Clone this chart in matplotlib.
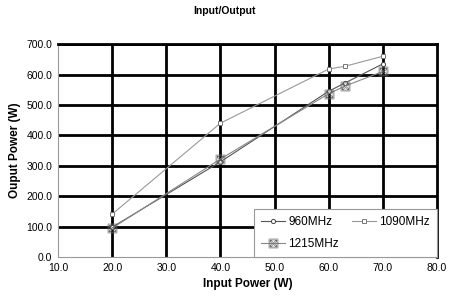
import numpy as np
import matplotlib
matplotlib.use("Agg")
import matplotlib.pyplot as plt

plt.rcParams['font.family'] = ['Liberation Sans', 'DejaVu Sans']

# data
x_in = [20, 40, 60, 63, 70]
p960 = [98, 313, 545, 572, 635]
p1090 = [141, 440, 618, 627, 660]
p1215 = [95, 322, 537, 562, 610]

xticks = [10, 20, 30, 40, 50, 60, 70, 80]
yticks = [0, 100, 200, 300, 400, 500, 600, 700]

fig = plt.figure(figsize=(4.5, 3.02), dpi=100)
ax = fig.add_axes([0.129, 0.149, 0.842, 0.705])

# thick black grid like the scanned excel chart
for yv in yticks[1:]:
    ax.axhline(yv, color='black', lw=2, zorder=1)
for xv in xticks[1:-1]:
    ax.axvline(xv, color='black', lw=2, zorder=1)

l1, = ax.plot(x_in, p960, color='#555555', lw=0.8, marker='o', ms=3,
              mfc='white', mec='#444444', mew=0.7, label='960MHz', zorder=3)
l2, = ax.plot(x_in, p1090, color='#999999', lw=0.8, marker='s', ms=3.5,
              mfc='white', mec='#777777', mew=0.7, label='1090MHz', zorder=3)
l3, = ax.plot(x_in, p1215, color='#888888', lw=0.8, marker='$\\boxtimes$', ms=6.5,
              mfc='none', mec='#666666', mew=0.4, label='1215MHz', zorder=3)

ax.set_xlim(10, 80)
ax.set_ylim(0, 700)
ax.set_xticks(xticks)
ax.set_yticks(yticks)
ax.set_xticklabels(['%.1f' % v for v in xticks], fontsize=7.5)
ax.set_yticklabels(['%.1f' % v for v in yticks], fontsize=7.5)
ax.tick_params(length=0, pad=4)

for s in ['left', 'bottom']:
    ax.spines[s].set_color('#999999')
    ax.spines[s].set_linewidth(0.8)
for s in ['top', 'right']:
    ax.spines[s].set_color('black')
    ax.spines[s].set_linewidth(2)

ax.set_xlabel('Input Power (W)', fontsize=8.5, fontweight='bold', labelpad=4)
ax.set_ylabel('Ouput Power (W)', fontsize=8.5, fontweight='bold', labelpad=4)
fig.text(0.5, 0.965, 'Input/Output', ha='center', va='center',
         fontsize=7.5, fontweight='bold')

leg = ax.legend([l1, l3, l2], ['960MHz', '1215MHz', '1090MHz'],
                loc='lower right', ncol=2, fontsize=8.5, frameon=True,
                fancybox=False, edgecolor='#999999', framealpha=1,
                borderaxespad=0, handlelength=2.0, columnspacing=1.1,
                handletextpad=0.3, borderpad=0.6, labelspacing=0.8)
leg.get_frame().set_linewidth(0.8)
leg.set_zorder(5)

fig.savefig('out.png', dpi=100)
